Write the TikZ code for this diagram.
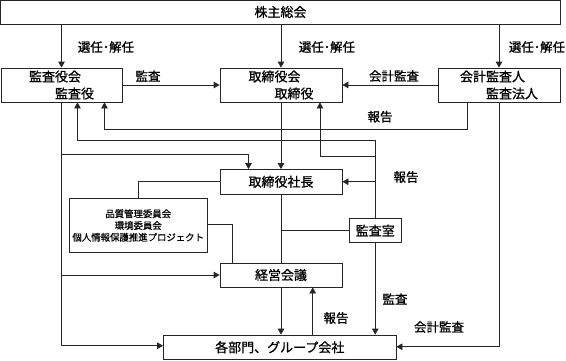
\documentclass[tikz,border=0pt]{standalone}
\usepackage{fontspec}
\setmainfont{Noto Sans CJK JP}[FakeBold=0.9]
\usetikzlibrary{arrows.meta}
\tikzset{
  box/.style={draw=black!85, line width=0.75pt, fill=white, inner sep=0pt, anchor=center,
    font=\fontsize{13}{17}\selectfont},
  lbl/.style={inner sep=0pt, anchor=center, font=\fontsize{12.5}{15}\selectfont},
  ln/.style={draw=black!85, line width=0.75pt},
  arr/.style={ln, -{Triangle[width=6.5pt,length=6pt]}}
}
\begin{document}
\begin{tikzpicture}[x=1pt,y=-1pt]
\useasboundingbox (0,0) rectangle (566,360);
% boxes
\node[box, minimum width=560pt, minimum height=24pt] (kabu) at (280.5,12) {株主総会};
\node[box, minimum width=121pt, minimum height=34pt, align=left] (kansa) at (61.5,85) {監査役会\\\hspace*{2em}監査役};
\node[box, minimum width=122pt, minimum height=34pt, align=left] (tori) at (281,85) {取締役会\\\hspace*{2em}取締役};
\node[box, minimum width=122pt, minimum height=34pt, align=left] (kaikei) at (499,85) {会計監査人\\\hspace*{2em}監査法人};
\node[box, minimum width=122pt, minimum height=24.5pt] (shacho) at (281,181.75) {取締役社長};
\node[box, minimum width=138.5pt, minimum height=54pt, align=center, font=\fontsize{9.4}{11.8}\selectfont] (hin) at (138.25,225.5) {品質管理委員会\\環境委員会\\個人情報保護推進プロジェクト};
\node[box, minimum width=52.5pt, minimum height=24pt] (ks) at (375.25,230.5) {監査室};
\node[box, minimum width=122pt, minimum height=24pt] (keiei) at (281,275) {経営会議};
\node[box, minimum width=232.5pt, minimum height=24.5pt] (kakubu) at (279.75,347.25) {各部門、グループ会社};
% connectors from shareholders
\draw[arr] (kabu.south -| kansa.north) -- (kansa.north);
\draw[arr] (kabu.south -| tori.north) -- (tori.north);
\draw[arr] (kabu.south -| kaikei.north) -- (kaikei.north);
% audits
\draw[arr] (kansa.east) -- (tori.west);
\draw[arr] (kaikei.west) -- (tori.east);
% report from accounting auditor to audit board
\draw[arr] ([xshift=-31.5pt]kaikei.south) -- ++(0,26.5) -| ([xshift=43pt]kansa.south);
% internal audit office reports
\draw[arr] (ks.north) -- ++(0,-78) -| ([xshift=16pt]kansa.south);
\draw[arr] (ks.north) ++(0,-62) -| ([xshift=39pt]tori.south);
\draw[arr] (ks.north |- shacho.east) -- (shacho.east);
% board to president
\draw[arr] (tori.south) -- (shacho.north);
% audit board lines
\draw[arr] (kansa.south) -- ++(0,52.3) -| ([xshift=-32.5pt]shacho.north);
\draw[arr] (kansa.south) |- (keiei.west);
\draw[arr] (kansa.south) |- ([yshift=1.5pt]kakubu.west);
% committees
\draw[ln] (shacho.west) -| (hin.north);
\draw[ln] ([yshift=1pt]hin.east) -| ([xshift=-48.7pt]keiei.north);
% president to management meeting
\draw[ln] (shacho.south) -- (keiei.north);
\draw[ln] (ks.west) -- (ks.west -| shacho.south);
% management meeting and departments
\draw[arr] (keiei.south) -- (kakubu.north -| keiei.south);
\draw[arr] ([xshift=31.7pt]keiei.south) ++(0,48) -- ([xshift=31.7pt]keiei.south);
\draw[arr] (ks.south) -- (ks.south |- kakubu.north);
\draw[arr] (kaikei.south) |- ([yshift=0.5pt]kakubu.east);
% labels
\node[lbl] (l1) at (106,47) {選任･解任};
\node[lbl] (l2) at (327,47) {選任･解任};
\node[lbl] (l3) at (537,47) {選任･解任};
\node[lbl] (l4) at (148,76) {監査};
\node[lbl] (l5) at (394,76) {会計監査};
\node[lbl] (l6) at (380,116.7) {報告};
\node[lbl] (l7) at (406,177) {報告};
\node[lbl] (l8) at (395,299) {監査};
\node[lbl] (l9) at (336,318) {報告};
\node[lbl] (l10) at (439,327) {会計監査};
\end{tikzpicture}
\end{document}
